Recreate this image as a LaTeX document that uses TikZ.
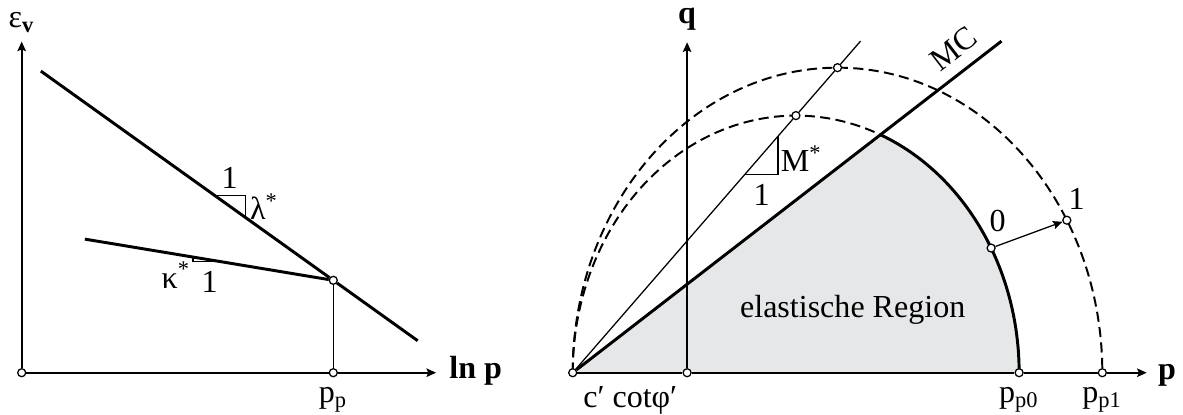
\documentclass[tikz,border=0pt]{standalone}
\usepackage{fontspec}
\setmainfont{Liberation Serif}
\usepackage{tikz}
\usetikzlibrary{positioning,arrows.meta,calc}
\definecolor{regiongray}{RGB}{230,231,232}
\pgfdeclarelayer{background}
\pgfsetlayers{background,main}

\begin{document}
\begin{tikzpicture}[>={Stealth[length=3.4pt,width=3pt,inset=0.6pt]},
    axis/.style={line width=0.8pt, ->},
    mainline/.style={line width=1.05pt},
    thinline/.style={line width=0.45pt},
    dashline/.style={line width=0.7pt, dash pattern=on 3.6pt off 1.9pt},
    point/.style={circle, draw, fill=white, line width=0.45pt, inner sep=0pt, minimum size=0.1cm},
    lbl/.style={font=\fontsize{11.4}{13}\selectfont, inner sep=0pt},
    axlbl/.style={font=\fontsize{11.4}{13}\selectfont\bfseries, inner sep=0pt}]

    \useasboundingbox (-0.271,-0.516) rectangle (14.516,4.659);

    % ================= LEFT: eps_v -- ln p =================
    \coordinate (ytip1) at (0,4.14);
    \coordinate (xtip1) at (5.18,0);
    \coordinate (s1) at (0.24,3.77);
    \coordinate (s2) at (4.95,0.40);
    \coordinate (k1) at (0.79,1.67);

    \node[point] (O1) at (0,0) {};
    \node[point] (pp) at ($(s1)!0.776!(s2)$) {};
    \node[point] (ppx) at (pp |- O1) {};

    % axes
    \draw[axis] (O1) -- (ytip1);
    \draw[axis] (O1) -- (ppx) -- (xtip1);
    \node[lbl] (epslbl) at (0,4.38) {ε\textsubscript{\bfseries v}};
    \node[axlbl] (lnp) at (5.676,0.02) {ln p};

    % compression line and swelling line
    \draw[mainline] (s1) -- (pp) -- (s2);
    \draw[mainline] (k1) -- (pp);
    \draw[thinline] (pp) -- (ppx);
    \node[lbl, below=0.12cm of ppx] (pplbl) {p\textsubscript{p}};

    % slope triangles
    \coordinate (la) at ($(s1)!0.461!(s2)$);
    \coordinate (lb) at ($(s1)!0.5435!(s2)$);
    \draw[thinline] (la) -| (lb);
    \node[lbl] (lone) at (2.60,2.43) {1};
    \node[lbl] (lam) at (3.03,2.08) {λ\textsuperscript{*}};

    \coordinate (ka) at ($(k1)!0.435!(pp)$);
    \coordinate (kb) at ($(k1)!0.551!(pp)$);
    \draw[thinline] (ka) |- (kb);
    \node[lbl] (kap) at (1.93,1.22) {κ\textsuperscript{*}};
    \node[lbl] (kone) at (2.35,1.14) {1};

    % ================= RIGHT: q -- p =================
    \begin{scope}[xshift=6.8875cm]
        \coordinate (qtip) at (1.43,4.13);
        \coordinate (ptip) at (7.175,0);
        \coordinate (c0) at (2.79,0);
        \coordinate (c1) at (3.31,0);
        \coordinate (mc) at (5.36,4.145);
        \coordinate (mend) at (3.598,4.145);
        \coordinate (Y) at (3.848,2.974);

        \node[point] (O2) at (0,0) {};
        \node[point] (qb) at (1.43,0) {};
        \node[point] (pp0) at (5.58,0) {};
        \node[point] (pp1) at (6.62,0) {};
        \node[point] (top0) at (2.79,3.214) {};
        \node[point] (top1) at (3.31,3.813) {};
        \node[point] (n0) at ($(c0)+(29:2.79 and 3.214)$) {};
        \node[point] (n1) at ($(c1)+(30:3.31 and 3.813)$) {};

        % elastic region and yield surfaces
        \begin{pgfonlayer}{background}
            \fill[regiongray] (O2.center) -- (Y) arc[start angle=67.72, end angle=0, x radius=2.79, y radius=3.214] -- cycle;
            \draw[dashline] (O2.center) arc[start angle=180, end angle=67.72, x radius=2.79, y radius=3.214];
            \draw[dashline] (O2.center) arc[start angle=180, end angle=0, x radius=3.31, y radius=3.813];
            \draw[mainline] (Y) arc[start angle=67.72, end angle=0, x radius=2.79, y radius=3.214];
        \end{pgfonlayer}
        \node[lbl] (elreg) at (3.50,0.78) {elastische Region};

        % axes
        \draw[axis] (qb) -- (qtip);
        \draw[axis] (O2) -- (qb) -- (pp0) -- (pp1) -- (ptip);
        \node[axlbl] (qlbl) at (1.43,4.425) {q};
        \node[axlbl] (plbl) at (7.43,-0.03) {p};

        % failure line MC and critical state line M*
        \draw[mainline] (O2) -- (mc);
        \node[lbl, rotate=37.7] (mclbl) at (4.76,4.05) {MC};
        \draw[thinline] (O2) -- (top0) -- (top1) -- (mend);

        \coordinate (ma) at ($(O2)!0.5976!(mend)$);
        \coordinate (mb) at ($(O2)!0.7129!(mend)$);
        \draw[thinline] (ma) -| (mb);
        \node[lbl] (mstar) at (2.86,2.68) {M\textsuperscript{*}};
        \node[lbl] (mone) at (2.36,2.22) {1};

        % hardening step
        \draw[thinline, ->] (n0) -- (n1);
        \node[lbl] (zero) at (5.31,1.90) {0};
        \node[lbl] (one) at (6.30,2.175) {1};

        % axis labels
        \node[lbl] (cot) at (0.72,-0.34) {c′ cotφ′};
        \node[lbl, below=0.12cm of pp0] (pp0lbl) {p\textsubscript{p0}};
        \node[lbl, below=0.12cm of pp1] (pp1lbl) {p\textsubscript{p1}};
    \end{scope}
\end{tikzpicture}
\end{document}
